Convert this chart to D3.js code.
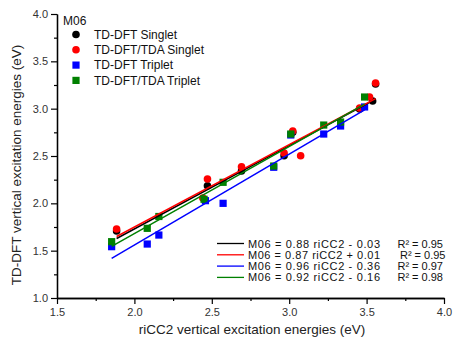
<!DOCTYPE html>
<html>
<head>
<meta charset="utf-8">
<script src="https://cdn.jsdelivr.net/npm/d3@7"></script>
<style>
body{margin:0;background:#fff;}
text{font-family:"Liberation Sans",Arial,sans-serif;}
</style>
</head>
<body>
<svg id="chart"></svg>
<script>
// values (riCC2 eV, M06 eV)
var tddftSingletX=[1.885,2.472,2.692,2.967,3.023,3.455,3.539,3.558]
var tddftSingletY=[1.708,2.186,2.341,2.503,2.750,2.996,3.081,3.260]
var tdaSingletX=[1.885,2.442,2.472,2.692,2.967,3.023,3.074,3.455,3.519,3.558]
var tdaSingletY=[1.729,2.056,2.257,2.387,2.532,2.764,2.503,3.007,3.123,3.271]
var tddftTripletX=[1.853,2.083,2.158,2.459,2.573,2.900,3.010,3.223,3.332,3.487]
var tddftTripletY=[1.542,1.570,1.665,2.028,2.000,2.381,2.722,2.732,2.817,3.018]
var tdaTripletX=[1.853,2.083,2.158,2.450,2.573,2.900,3.010,3.223,3.332,3.487]
var tdaTripletY=[1.595,1.736,1.861,2.043,2.222,2.394,2.732,2.827,2.859,3.123]

var seriesNames=["TD-DFT Singlet","TD-DFT/TDA Singlet","TD-DFT Triplet","TD-DFT/TDA Triplet"]
var seriesColors=["#000000","#ff0000","#0000ff","#008000"]
var seriesShapes=["circle","circle","square","square"]
var fitSlopes=[0.88,0.87,0.96,0.92]
var fitIntercepts=[-0.03,0.01,-0.36,-0.16]
var fitLabels=["M06 = 0.88 riCC2 - 0.03","M06 = 0.87 riCC2 + 0.01","M06 = 0.96 riCC2 - 0.36","M06 = 0.92 riCC2 - 0.16"]
var r2Labels=["R\u00b2 = 0.95","R\u00b2 = 0.95","R\u00b2 = 0.97","R\u00b2 = 0.98"]
var xTicks=[1.5,2.0,2.5,3.0,3.5,4.0]
var yTicks=[1.0,1.5,2.0,2.5,3.0,3.5,4.0]

var allX=[tddftSingletX,tdaSingletX,tddftTripletX,tdaTripletX]
var allY=[tddftSingletY,tdaSingletY,tddftTripletY,tdaTripletY]

var screen={width:453,height:342}
var margin={left:57,right:9,top:14,bottom:44}

var svg=d3.select("#chart")
    .attr("width",screen.width)
    .attr("height",screen.height)

var xScale=d3.scaleLinear()
    .domain([1.5,4.0])
    .range([margin.left,screen.width-margin.right])
var yScale=d3.scaleLinear()
    .domain([1.0,4.0])
    .range([screen.height-margin.bottom,margin.top])

var makeSeries=function(i){
    return allX[i].map(function(x,j){return {x:x,y:allY[i][j]}})
}

//axes with minor ticks
var drawAxes=function(){
    var xAxis=d3.axisBottom(xScale).tickValues(xTicks).tickFormat(d3.format(".1f")).tickSizeInner(6).tickSizeOuter(0).tickPadding(4)
    var xMinor=d3.axisBottom(xScale).tickValues(d3.range(1.75,4.0,0.5)).tickFormat("").tickSizeInner(3).tickSizeOuter(0)
    var yAxis=d3.axisLeft(yScale).tickValues(yTicks).tickFormat(d3.format(".1f")).tickSizeInner(6).tickSizeOuter(0).tickPadding(3)
    var yMinor=d3.axisLeft(yScale).tickValues(d3.range(1.25,4.0,0.5)).tickFormat("").tickSizeInner(3).tickSizeOuter(0)

    var bottom=screen.height-margin.bottom
    svg.append("g").attr("transform","translate(0,"+bottom+")").call(xMinor)
    svg.append("g").attr("transform","translate(0,"+bottom+")").call(xAxis)
    svg.append("g").attr("transform","translate("+margin.left+",0)").call(yMinor)
    svg.append("g").attr("transform","translate("+margin.left+",0)").call(yAxis)

    svg.selectAll(".domain").attr("stroke","#000").attr("stroke-width",1.3)
    svg.selectAll(".tick line").attr("stroke","#000").attr("stroke-width",1.2)
    svg.selectAll(".tick text").attr("font-size",11).attr("fill","#333")
        .style("font-family","'Liberation Sans',Arial,sans-serif")

    svg.append("text")
        .attr("x",252).attr("y",334)
        .attr("text-anchor","middle")
        .attr("font-size",13.5)
        .attr("fill","#222")
        .text("riCC2 vertical excitation energies (eV)")
    svg.append("text")
        .attr("transform","translate(21,165) rotate(-90)")
        .attr("text-anchor","middle")
        .attr("font-size",13.5)
        .attr("fill","#222")
        .text("TD-DFT vertical excitation energies (eV)")
}

var drawMarker=function(sel,shape,color){
    if(shape=="circle"){
        sel.append("circle").attr("r",3.8).attr("fill",color)
    }else{
        sel.append("rect").attr("x",-3.6).attr("y",-3.6).attr("width",7.2).attr("height",7.2).attr("fill",color)
    }
}

var drawPoints=function(){
    seriesNames.forEach(function(name,i){
        svg.append("g")
            .selectAll("g")
            .data(makeSeries(i))
            .enter()
            .append("g")
            .attr("transform",function(d){return "translate("+xScale(d.x)+","+yScale(d.y)+")"})
            .each(function(){drawMarker(d3.select(this),seriesShapes[i],seriesColors[i])})
    })
}

var drawFits=function(){
    seriesNames.forEach(function(name,i){
        var ext=d3.extent(allX[i])
        var line=d3.line()
            .x(function(x){return xScale(x)})
            .y(function(x){return yScale(fitSlopes[i]*x+fitIntercepts[i])})
        svg.append("path")
            .attr("d",line(ext))
            .attr("fill","none")
            .attr("stroke",seriesColors[i])
            .attr("stroke-width",1.5)
    })
}

var drawLegends=function(){
    svg.append("text").attr("x",63).attr("y",25).attr("font-size",12).attr("fill","#111").text("M06")
    seriesNames.forEach(function(name,i){
        var g=svg.append("g").attr("transform","translate(76,"+(34.5+i*15.3)+")")
        drawMarker(g,seriesShapes[i],seriesColors[i])
        g.append("text").attr("x",18).attr("y",4.3).attr("font-size",12).attr("fill","#111").text(name)
    })
    fitLabels.forEach(function(label,i){
        var y=243.5+i*11.3
        svg.append("line").attr("x1",217).attr("x2",244).attr("y1",y).attr("y2",y)
            .attr("stroke",seriesColors[i]).attr("stroke-width",1.3)
        svg.append("text").attr("x",248).attr("y",y+4).attr("font-size",11).attr("fill","#111")
            .attr("textLength",132).attr("lengthAdjust","spacing").text(label)
        svg.append("text").attr("x",i==1?445.5:443).attr("y",y+4).attr("text-anchor","end")
            .attr("font-size",11).attr("fill","#111").text(r2Labels[i])
    })
}

drawAxes()
drawPoints()
drawFits()
drawLegends()
</script>
</body>
</html>
